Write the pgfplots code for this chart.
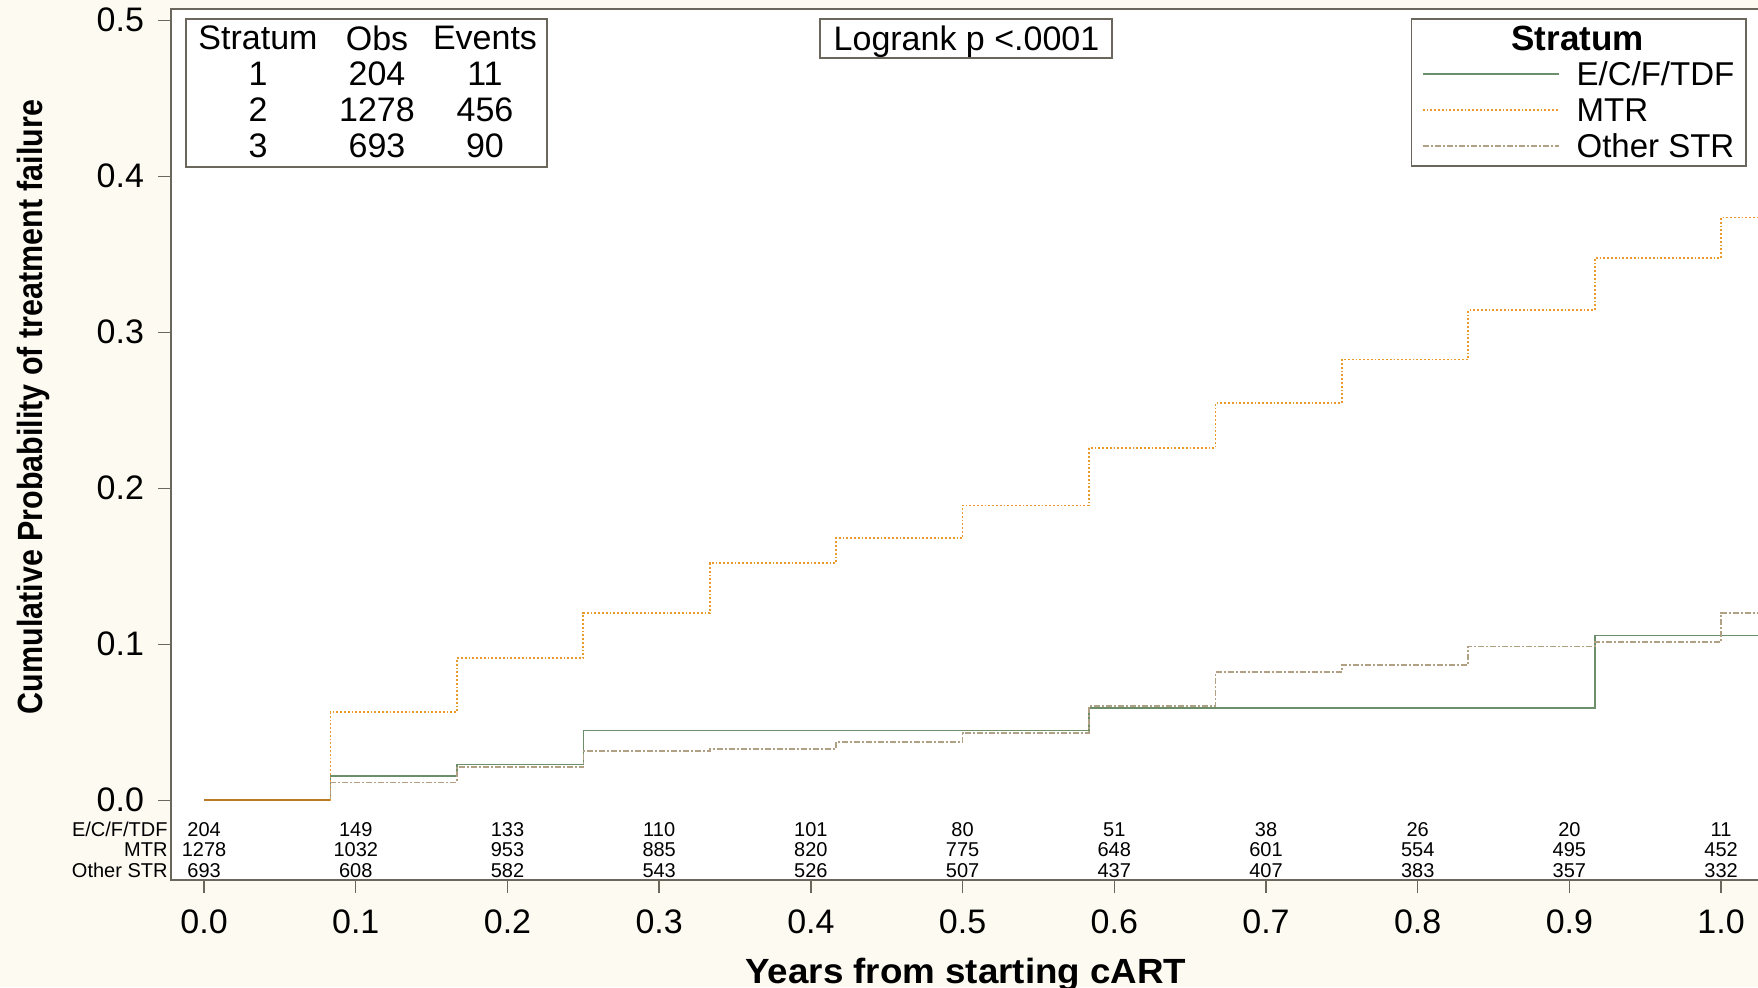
\documentclass[border=0pt]{standalone}
\usepackage{fontspec}
\setmainfont{Liberation Sans}
\newfontfamily\narrowfont[FakeStretch=0.87]{Liberation Sans}
\newfontfamily\widefont[FakeStretch=1.05]{Liberation Sans}
\usepackage{pgfplots}
\pgfplotsset{compat=1.18}
\definecolor{bg}{HTML}{FDFAF2}
\definecolor{frame}{HTML}{6B675C}
\definecolor{grn}{HTML}{6B8E6B}
\definecolor{org}{HTML}{E89A2C}
\definecolor{oth}{HTML}{B0A084}
\begin{document}
\begin{tikzpicture}
\fill[bg] (0,0) rectangle (879pt,493.5pt);
\begin{axis}[
  at={(85.5pt,53.5pt)}, anchor=south west,
  scale only axis, width=805.4pt, height=435.5pt,
  xmin=-0.0218, xmax=1.04, ymin=-0.0511, ymax=0.5072,
  clip=false,
  axis background/.style={fill=white},
  axis line style={frame, line width=0.9pt},
  xtick={0,0.1,0.2,0.3,0.4,0.5,0.6,0.7,0.8,0.9,1.0},
  ytick={0,0.1,0.2,0.3,0.4,0.5},
  tick align=outside, major tick length=6.5pt,
  every tick/.style={frame, line width=0.7pt},
  tick pos=left,
  ticklabel style={font=\fontsize{17}{20}\selectfont},
  x tick label style={yshift=-5pt},
  y tick label style={xshift=-3.5pt},
  /pgf/number format/assume math mode=true,
  /pgf/number format/.cd, fixed, fixed zerofill, precision=1, /pgfplots/.cd,
  xlabel={Years from starting cART},
  ylabel={Cumulative Probability of treatment failure},
  every axis x label/.style={at={(axis description cs:0.4935,-0.1183)}, anchor=base, font=\widefont\bfseries\fontsize{17.5}{20}\selectfont},
  every axis y label/.style={at={(axis description cs:-0.0853,0.543)}, rotate=90, anchor=center, font=\narrowfont\bfseries\fontsize{17.5}{20}\selectfont},
  legend cell align=left,
  legend image code/.code={\draw[#1] (0pt,1.5pt) -- (68pt,1.5pt);},
  legend style={at={(axis description cs:0.7765,0.9394)}, anchor=north west,
    draw=none, fill=none, inner sep=0pt, outer sep=0pt, row sep=2.5pt, column sep=8.5pt,
    font=\fontsize{16.5}{19}\selectfont,
    nodes={inner sep=0pt, text height=12pt, text depth=3.5pt}},
]
\addplot[const plot mark left, grn, line width=0.8pt] coordinates {
(0,0) (0.0833,0.0157) (0.1667,0.0230) (0.25,0.0447) (0.5833,0.0591) (0.9167,0.1055) (1.03,0.1055)};
\addlegendentry{E/C/F/TDF}
\addplot[const plot mark left, org, line width=0.9pt, densely dotted] coordinates {
(0,0) (0.0833,0.0564) (0.1667,0.0911) (0.25,0.1200) (0.3333,0.1520) (0.4167,0.1680) (0.5,0.1890) (0.5833,0.2257) (0.6667,0.2547) (0.75,0.2825) (0.8333,0.3141) (0.9167,0.3477) (1.0,0.3736) (1.03,0.3736)};
\addlegendentry{MTR}
\addplot[const plot mark left, oth, line width=0.8pt, dash pattern=on 3pt off 1pt on 1pt off 1pt] coordinates {
(0,0) (0.0833,0.0113) (0.1667,0.0215) (0.25,0.0317) (0.3333,0.0330) (0.4167,0.0374) (0.5,0.0432) (0.5833,0.0606) (0.6667,0.0823) (0.75,0.0867) (0.8333,0.0987) (0.9167,0.1014) (1.0,0.1199) (1.03,0.1199)};
\addlegendentry{Other STR}
\addplot[forget plot, const plot mark left, org!80!black, line width=0.8pt] coordinates {(0,0) (0.0833,0)};
\begin{scope}[every node/.style={font=\fontsize{10}{12}\selectfont, inner sep=0pt}]
\node[anchor=east] at (axis cs:-0.0238,-0.0189) {E/C/F/TDF};
\node[anchor=east] at (axis cs:-0.0238,-0.0318) {MTR};
\node[anchor=east] at (axis cs:-0.0238,-0.0448) {Other STR};
\node at (axis cs:0.0,-0.0189) {204};
\node at (axis cs:0.1,-0.0189) {149};
\node at (axis cs:0.2,-0.0189) {133};
\node at (axis cs:0.3,-0.0189) {110};
\node at (axis cs:0.4,-0.0189) {101};
\node at (axis cs:0.5,-0.0189) {80};
\node at (axis cs:0.6,-0.0189) {51};
\node at (axis cs:0.7,-0.0189) {38};
\node at (axis cs:0.8,-0.0189) {26};
\node at (axis cs:0.9,-0.0189) {20};
\node at (axis cs:1.0,-0.0189) {11};
\node at (axis cs:0.0,-0.0318) {1278};
\node at (axis cs:0.1,-0.0318) {1032};
\node at (axis cs:0.2,-0.0318) {953};
\node at (axis cs:0.3,-0.0318) {885};
\node at (axis cs:0.4,-0.0318) {820};
\node at (axis cs:0.5,-0.0318) {775};
\node at (axis cs:0.6,-0.0318) {648};
\node at (axis cs:0.7,-0.0318) {601};
\node at (axis cs:0.8,-0.0318) {554};
\node at (axis cs:0.9,-0.0318) {495};
\node at (axis cs:1.0,-0.0318) {452};
\node at (axis cs:0.0,-0.0448) {693};
\node at (axis cs:0.1,-0.0448) {608};
\node at (axis cs:0.2,-0.0448) {582};
\node at (axis cs:0.3,-0.0448) {543};
\node at (axis cs:0.4,-0.0448) {526};
\node at (axis cs:0.5,-0.0448) {507};
\node at (axis cs:0.6,-0.0448) {437};
\node at (axis cs:0.7,-0.0448) {407};
\node at (axis cs:0.8,-0.0448) {383};
\node at (axis cs:0.9,-0.0448) {357};
\node at (axis cs:1.0,-0.0448) {332};
\end{scope}
\end{axis}
\draw[frame, line width=0.7pt] (93pt,484pt) rectangle (273.5pt,410pt);
\begin{scope}[every node/.style={font=\fontsize{17}{20}\selectfont, inner sep=0pt}]
\node at (129pt,474.5pt) {Stratum};
\node at (188.5pt,474.5pt) {Obs};
\node at (242.5pt,474.5pt) {Events};
\node at (129pt,456.5pt) {1};
\node at (188.5pt,456.5pt) {204};
\node at (242.5pt,456.5pt) {11};
\node at (129pt,438.5pt) {2};
\node at (188.5pt,438.5pt) {1278};
\node at (242.5pt,438.5pt) {456};
\node at (129pt,420.5pt) {3};
\node at (188.5pt,420.5pt) {693};
\node at (242.5pt,420.5pt) {90};
\end{scope}
\draw[frame, line width=0.7pt] (410pt,484pt) rectangle (556pt,464.5pt);
\node[font=\fontsize{17}{20}\selectfont, inner sep=0pt, anchor=base] at (483.25pt,468.3pt) {Logrank p <.0001};
\draw[frame, line width=0.7pt] (705.8pt,484pt) rectangle (872.9pt,410.5pt);
\node[font=\bfseries\fontsize{17.5}{20}\selectfont, inner sep=0pt] at (788.8pt,474.5pt) {Stratum};
\pgfresetboundingbox
\path[use as bounding box] (0,0) rectangle (879pt,493.5pt);
\end{tikzpicture}
\end{document}
